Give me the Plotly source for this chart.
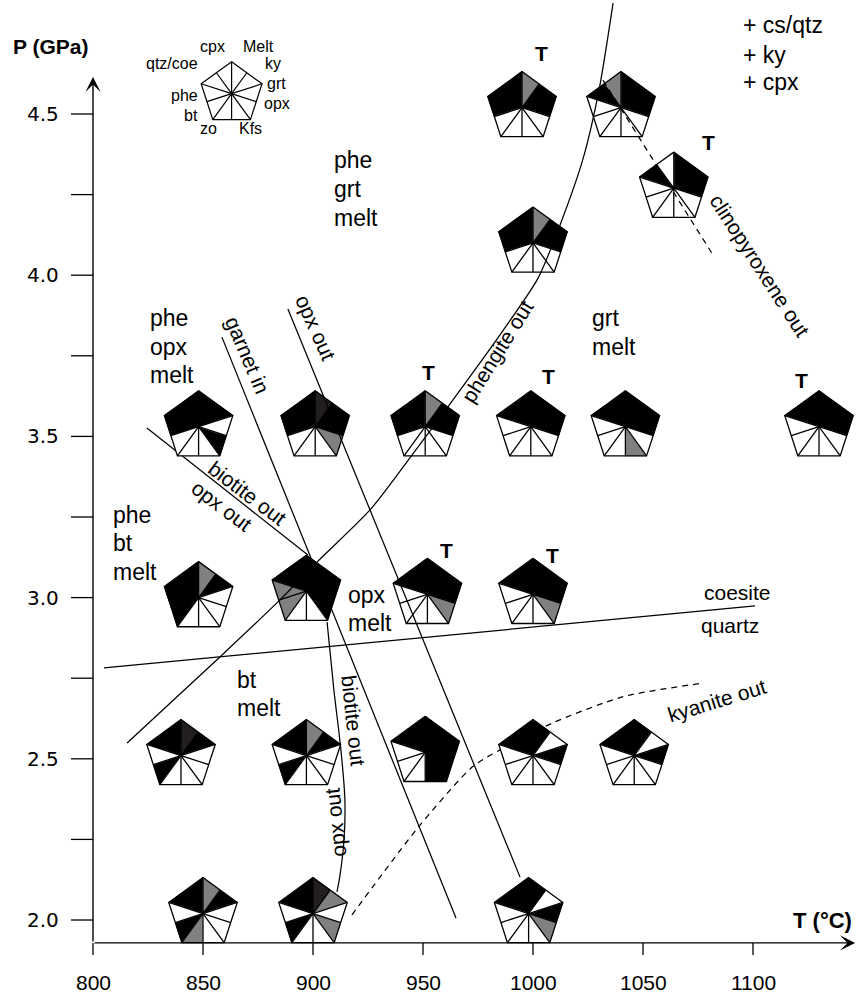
import numpy as np
import plotly.graph_objects as go

# ---------------------------------------------------------------------------
# Experimental runs (T in °C, P in GPa) and the phases found in each run.
# Each pentagon is split into ten sectors, clockwise from the top vertex,
# in the order given by `phases`.  B = present, G = minor, D = trace-dark,
# W = absent.
# ---------------------------------------------------------------------------
phases = ["Melt", "ky", "grt", "opx", "Kfs", "zo", "bt", "phe", "qtz/coe", "cpx"]

run_T = [995, 1040, 1064, 1000,
         848, 901, 951, 999, 1042, 1130,
         848, 897, 952, 1000,
         840, 897, 951, 1000, 1046,
         850, 900, 998]
run_P = [4.52, 4.52, 4.27, 4.10,
         3.53, 3.53, 3.53, 3.53, 3.53, 3.53,
         3.00, 3.02, 3.01, 3.01,
         2.51, 2.51, 2.52, 2.51, 2.51,
         2.02, 2.02, 2.02]
run_fill = [
    "GBBWWWWBBB", "BBBWWWWWBG", "BBBWWWWWBW", "GBBWWWWBBB",
    "BBWBWWWBBB", "DBBGWWWBBB", "GBBWWWWBBB", "BBBWWWWWBB", "BBBWGWWWBB", "BBBWWWWWBB",
    "GBWWWWBBBB", "BBBBWWGGBB", "BBBGWWWWBB", "BBBGWWWWBB",
    "DBWWWWBWBB", "GBWWWWBWBB", "BBBBBWWWBB", "BWBWWWWWBB", "BWBWWWWWBB",
    "GBWWWGBWBB", "DGWGWWBWBB", "BWBGWWWWBB",
]
run_tag = ["T", "", "T", "",
           "", "", "T", "T", "", "T",
           "", "", "T", "T",
           "", "", "", "", "",
           "", "", ""]

# ---------------------------------------------------------------------------
# Phase boundaries
# ---------------------------------------------------------------------------
phe_out_T = [815.5, 857.7, 885.0, 901.8, 925.9, 942.7, 960.9, 985.0, 1002.3, 1012.3, 1022.7, 1030.0, 1036.4]
phe_out_P = [2.549, 2.816, 2.993, 3.110, 3.272, 3.421, 3.588, 3.815, 3.991, 4.156, 4.360, 4.574, 4.844]

grt_in_T = [858.6, 965.0]
grt_in_P = [3.808, 2.006]

bt_opx_out_T = [824.5, 897.7]
bt_opx_out_P = [3.526, 3.132]

bt_out_T = [906.4, 909.5, 912.7, 914.5, 914.1, 912.3, 910.9]
bt_out_P = [2.924, 2.713, 2.527, 2.372, 2.248, 2.140, 2.087]

opx_out_T = [888.6, 994.1]
opx_out_P = [3.895, 2.133]

coe_qtz_T = [805.0, 1100.9]
coe_qtz_P = [2.782, 2.974]

ky_out_T = [917.7, 948.0, 972.6, 984.8, 1008.5, 1041.2, 1076.4]
ky_out_P = [2.016, 2.289, 2.476, 2.527, 2.610, 2.693, 2.734]

cpx_out_T = [1031.8, 1081.8]
cpx_out_P = [4.605, 4.063]

# axis ticks
x_ticks = [800, 850, 900, 950, 1000, 1050, 1100]
y_ticks = [2.0, 2.25, 2.5, 2.75, 3.0, 3.25, 3.5, 3.75, 4.0, 4.25, 4.5]
y_tick_text = ["2.0", "", "2.5", "", "3.0", "", "3.5", "", "4.0", "", "4.5"]

# ---------------------------------------------------------------------------
# Layout constants
# ---------------------------------------------------------------------------
W, H = 858, 998
X_RANGE = [757.727, 1147.727]
Y_RANGE = [1.7581, 4.8536]
KX = W / (X_RANGE[1] - X_RANGE[0])   # px per °C
KY = H / (Y_RANGE[1] - Y_RANGE[0])   # px per GPa
AX_T0, AX_P0 = 800, 1.929            # axis origin
AX_T1, AX_P1 = 1146.4, 4.615         # arrow tips
FONT = "Liberation Sans, Arial, Helvetica, sans-serif"
COLORS = {"B": "#000000", "G": "#808080", "D": "#231f20", "W": "#ffffff"}
C36 = np.cos(np.radians(36))

fig = go.Figure()


def add_line(T, P, dash="solid", smooth=False, width=1.25):
    fig.add_trace(go.Scatter(
        x=T, y=P, mode="lines", hoverinfo="skip", showlegend=False,
        line=dict(color="black", width=width, dash=dash,
                  shape="spline" if smooth else "linear", smoothing=0.7)))


def spoke_points(t, p, r_px):
    pts = []
    for k in range(11):
        a = np.radians(90 - 36 * k)
        r = r_px if k % 2 == 0 else r_px * C36
        pts.append((t + r * np.cos(a) / KX, p + r * np.sin(a) / KY))
    return pts


def add_pentagons(Ts, Ps, fills, r_px, edge_w=1.3):
    polys = {c: ([], []) for c in COLORS}
    ex, ey = [], []
    for t, p, code in zip(Ts, Ps, fills):
        pts = spoke_points(t, p, r_px)
        for j, c in enumerate(code):
            xs, ys = polys[c]
            xs += [t, pts[j][0], pts[j + 1][0], t, None]
            ys += [p, pts[j][1], pts[j + 1][1], p, None]
        ex += [q[0] for q in pts] + [None]
        ey += [q[1] for q in pts] + [None]
        for k in range(10):
            ex += [t, pts[k][0], None]
            ey += [p, pts[k][1], None]
    for c, (xs, ys) in polys.items():
        if xs:
            fig.add_trace(go.Scatter(
                x=xs, y=ys, mode="lines", fill="toself", fillcolor=COLORS[c],
                line=dict(color=COLORS[c], width=0.6), hoverinfo="skip",
                showlegend=False))
    fig.add_trace(go.Scatter(
        x=ex, y=ey, mode="lines", line=dict(color="black", width=edge_w),
        hoverinfo="skip", showlegend=False))


def label(text, px, py, size=23, angle=0, anchor="left", bold=False, family=FONT, pad=1):
    if bold:
        text = "<b>" + text + "</b>"
    fig.add_annotation(
        x=px / W, y=1 - py / H, xref="paper", yref="paper", text=text,
        showarrow=False, xanchor=anchor, yanchor="middle", textangle=angle,
        borderpad=pad, font=dict(size=size, family=family, color="black"))


# boundaries drawn beneath the run symbols
DASH = "6px,5px"
add_line(grt_in_T, grt_in_P)
add_line(bt_opx_out_T, bt_opx_out_P)
add_line(bt_out_T, bt_out_P, smooth=True)
add_line(coe_qtz_T, coe_qtz_P)
add_line(ky_out_T, ky_out_P, dash=DASH, smooth=True)

# run symbols
add_pentagons(run_T, run_P, run_fill, 36)

# boundaries drawn over the run symbols
add_line(phe_out_T, phe_out_P, smooth=True)
add_line(opx_out_T, opx_out_P)
add_line(cpx_out_T, cpx_out_P, dash=DASH)

# key pentagon
key_T, key_P = 863.0, 4.563
add_pentagons([key_T], [key_P], ["W" * 10], 32, edge_w=1.2)

# ---------------------------------------------------------------------------
# Axes: lines with arrow heads, ticks and labels
# ---------------------------------------------------------------------------
tx, ty = [], []
for t in x_ticks:
    tx += [t, t, None]
    ty += [AX_P0, AX_P0 - 12 / KY, None]
for p in y_ticks:
    tx += [AX_T0, AX_T0 - 22 / KX, None]
    ty += [p, p, None]
fig.add_trace(go.Scatter(x=tx, y=ty, mode="lines", line=dict(color="black", width=1.3),
                         hoverinfo="skip", showlegend=False))

for (x, y) in [(AX_T1, AX_P0), (AX_T0, AX_P1)]:
    fig.add_annotation(x=x, y=y, ax=AX_T0, ay=AX_P0, xref="x", yref="y",
                       axref="x", ayref="y", text="", showarrow=True,
                       arrowhead=3, arrowsize=1.8, arrowwidth=1.4, arrowcolor="black",
                       standoff=0)

for t in x_ticks:
    fig.add_annotation(x=t, y=AX_P0 - 40 / KY, xref="x", yref="y", text=str(t),
                       showarrow=False, xanchor="center", yanchor="middle",
                       font=dict(size=21, family=FONT, color="black"))
for p, s in zip(y_ticks, y_tick_text):
    if s:
        fig.add_annotation(x=AX_T0 - 32 / KX, y=p, xref="x", yref="y", text=s,
                           showarrow=False, xanchor="right", yanchor="middle",
                           font=dict(size=20, family="DejaVu Sans, " + FONT, color="black"))

label("P (GPa)", 50, 47, size=21, anchor="center", bold=True)
label("T (°C)", 822, 920, size=22, anchor="center", bold=True)

# ---------------------------------------------------------------------------
# Field labels
# ---------------------------------------------------------------------------
for words, x0, ys in [
    (["phe", "grt", "melt"], 332, [160, 189, 218]),
    (["phe", "opx", "melt"], 148, [318, 347, 375]),
    (["phe", "bt", "melt"], 111, [515, 543, 572]),
    (["opx", "melt"], 346, [595, 623]),
    (["bt", "melt"], 235, [680, 708]),
    (["grt", "melt"], 590, [318, 347]),
    (["+ cs/qtz", "+ ky", "+ cpx"], 741, [25, 55, 82]),
]:
    for w, y in zip(words, ys):
        label(w, x0, y)

label("coesite", 737, 592, size=21, anchor="center")
label("quartz", 730, 625, size=21, anchor="center")

# reaction labels along the curves
label("garnet in", 248, 355, size=21, angle=67, anchor="center")
label("opx out", 316, 327, size=21, angle=66, anchor="center")
label("biotite out", 248, 493, size=21, angle=37, anchor="center")
label("opx out", 221, 506, size=21, angle=37, anchor="center")
label("phengite out", 497, 351, size=21, angle=-58, anchor="center")
label("clinopyroxene out", 760, 265, size=21, angle=57, anchor="center")
label("biotite out", 354, 720, size=21, angle=84, anchor="center")
label("opx out", 335, 823, size=21, angle=-96, anchor="center")
label("kyanite out", 717, 700, size=21, angle=-17, anchor="center")

# "T" tags above selected runs (offsets in px from the symbol centre)
tag_offsets = {0: (19, -54), 2: (35, -46), 6: (3, -54), 7: (18, -50),
               9: (-18, -46), 12: (19, -44), 13: (19, -39)}
for i, tag in enumerate(run_tag):
    if tag:
        cx = (run_T[i] - X_RANGE[0]) * KX
        cy = H - (run_P[i] - Y_RANGE[0]) * KY
        dx, dy = tag_offsets[i]
        label(tag, cx + dx, cy + dy, size=21, anchor="center", bold=True)

# key labels
for name, x, y, anc in [
    ("cpx", 212, 46, "center"), ("Melt", 258, 46, "center"),
    ("ky", 264, 63, "left"), ("grt", 266, 83, "left"), ("opx", 263, 103, "left"),
    ("Kfs", 250, 128, "center"), ("zo", 208, 128, "center"),
    ("bt", 199, 115, "right"), ("phe", 199, 95, "right"), ("qtz/coe", 199, 63, "right"),
]:
    label(name, x, y, size=16, anchor=anc, pad=0)

fig.update_layout(
    width=W, height=H, margin=dict(l=0, r=0, t=0, b=0),
    paper_bgcolor="white", plot_bgcolor="white", hovermode=False,
    xaxis=dict(range=X_RANGE, visible=False, fixedrange=True),
    yaxis=dict(range=Y_RANGE, visible=False, fixedrange=True),
    font=dict(family=FONT, color="black"),
)

fig.write_html("out.html")
